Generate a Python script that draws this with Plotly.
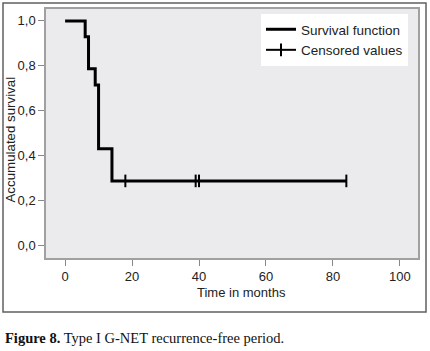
import plotly.graph_objects as go

# Kaplan-Meier step data
step_times = [0, 6, 7, 9, 10, 14, 84]
step_survival = [1.0, 0.929, 0.786, 0.714, 0.429, 0.286, 0.286]
censored_times = [18, 39, 40, 84]
censored_survival = [0.286, 0.286, 0.286, 0.286]
x_ticks = [0, 20, 40, 60, 80, 100]
y_ticks = [0.0, 0.2, 0.4, 0.6, 0.8, 1.0]

W, H = 430, 351
L, R, T, B = 46, 12, 9, 93
pw, ph = W - L - R, H - T - B

def px(x):
    return (x - L) / pw

def py(y):
    return (H - B - y) / ph

fig = go.Figure()
fig.add_trace(go.Scatter(
    x=step_times, y=step_survival, mode="lines", line_shape="hv",
    line=dict(color="black", width=3), name="Survival function"))
fig.add_trace(go.Scatter(
    x=censored_times, y=censored_survival, mode="markers",
    marker=dict(symbol="line-ns", size=9, line=dict(color="black", width=2)),
    name="Censored values", showlegend=False))
# legend-only entry showing a line with a cross tick
fig.add_trace(go.Scatter(
    x=[None], y=[None], mode="lines+markers",
    line=dict(color="black", width=2),
    marker=dict(symbol="line-ns", size=9, line=dict(color="black", width=2)),
    name="Censored values"))

font = "Liberation Sans, Arial, sans-serif"
fig.update_layout(
    width=W, height=H, margin=dict(l=L, r=R, t=T, b=B, autoexpand=False),
    paper_bgcolor="white", plot_bgcolor="#ebebed",
    separators=",.",
    font=dict(family=font, size=13, color="#222"),
    showlegend=True,
    legend=dict(x=px(408), xanchor="right", y=py(14), yanchor="top",
                bgcolor="white", borderwidth=0, font=dict(size=13.5, color="#222"),
                itemwidth=30, tracegroupgap=0),
    xaxis=dict(range=[-5.7, 105.4], tickvals=x_ticks, ticks="outside", ticklen=6,
               tickcolor="#888", showgrid=False, zeroline=False, showline=True,
               mirror=True, linecolor="#a0a0a0", linewidth=1.5,
               tickfont=dict(size=13, color="#222")),
    yaxis=dict(range=[-0.058, 1.053], tickvals=y_ticks, tickformat=".1f",
               ticks="outside", ticklen=6, tickcolor="#888", showgrid=False,
               zeroline=False, showline=True, mirror=True, linecolor="#a0a0a0",
               linewidth=1.5, tickfont=dict(size=13, color="#222")),
)

fig.add_annotation(text="Accumulated survival", xref="paper", yref="paper",
                   x=px(9.5), y=py(140), textangle=-90, showarrow=False,
                   xanchor="center", yanchor="middle", font=dict(size=13.3, color="#222"))
fig.add_annotation(text="Time in months", xref="paper", yref="paper",
                   x=px(241), y=py(292), showarrow=False,
                   xanchor="center", yanchor="middle", font=dict(size=13, color="#222"))
fig.add_annotation(text="<b>Figure 8.</b> Type I G-NET recurrence-free period.",
                   xref="paper", yref="paper", x=px(3), y=py(338), showarrow=False,
                   xanchor="left", yanchor="middle",
                   font=dict(family="Liberation Serif, Times New Roman, serif", size=14.5, color="#111"))
fig.add_shape(type="rect", xref="paper", yref="paper",
              x0=px(3), x1=px(426), y0=py(312), y1=py(3),
              line=dict(color="#606060", width=1.5), layer="below")

fig.write_html("out.html", config={"displayModeBar": False},
               post_script="document.body.style.margin='0';document.body.style.overflow='hidden';")
